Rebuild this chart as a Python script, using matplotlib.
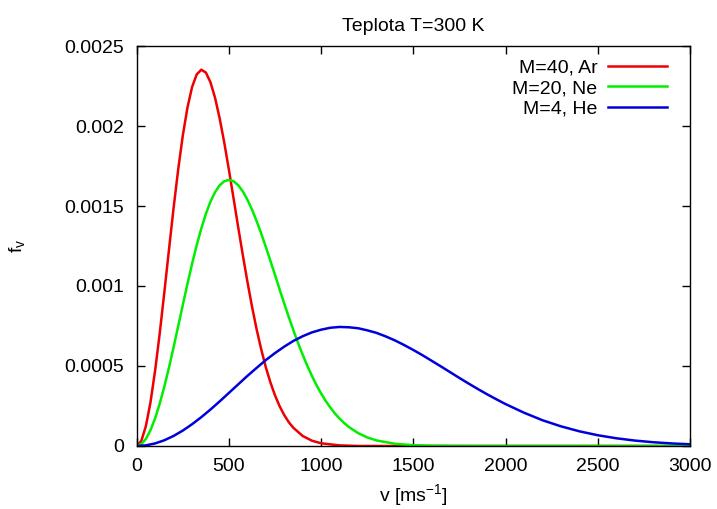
import matplotlib
matplotlib.use("Agg")
import matplotlib.pyplot as plt

plt.rcParams['font.family'] = ['Liberation Sans', 'DejaVu Sans']

# values (Maxwell distribution at T=300 K)
v_ar = [0, 25, 50, 75, 100, 125, 150, 175, 200, 225, 250, 275, 300, 325,
        350, 375, 400, 425, 450, 475, 500, 525, 550, 575, 600, 625, 650,
        675, 700, 725, 750, 775, 800, 825, 850, 900, 950, 1000, 1100, 1200,
        3000]
f_ar = [0, 0.0000319, 0.000126, 0.000276, 0.000474, 0.000707, 0.000964,
        0.001229, 0.001489, 0.001730, 0.001942, 0.002115, 0.002243,
        0.002322, 0.002352, 0.002334, 0.002273, 0.002175, 0.002046,
        0.001894, 0.001725, 0.001548, 0.001369, 0.001195, 0.001028,
        0.000872, 0.000730, 0.000604, 0.000492, 0.000397, 0.000316,
        0.000248, 0.000193, 0.000148, 0.000113, 0.0000625, 0.000033,
        0.0000168, 0.0000038, 0.0, 0.0]

v_ne = [0, 25, 50, 75, 100, 125, 150, 175, 200, 225, 250, 275, 300, 325,
        350, 375, 400, 425, 450, 475, 500, 525, 550, 575, 600, 625, 650,
        675, 700, 725, 750, 775, 800, 825, 850, 875, 900, 925, 950, 975,
        1000, 1025, 1050, 1075, 1100, 1125, 1150, 1200, 1250, 1300, 1400,
        1500, 1600, 1800, 3000]
f_ne = [0, 0.0000113, 0.0000449, 0.0000998, 0.000174, 0.000266, 0.000373,
        0.000491, 0.000618, 0.000750, 0.000882, 0.001013, 0.001138,
        0.001254, 0.001359, 0.001451, 0.001528, 0.001587, 0.001630,
        0.001655, 0.001663, 0.001655, 0.001630, 0.001592, 0.001540,
        0.001478, 0.001406, 0.001328, 0.001244, 0.001157, 0.001068,
        0.000978, 0.000890, 0.000804, 0.000722, 0.000643, 0.000570,
        0.000501, 0.000438, 0.000380, 0.000328, 0.000281, 0.000240,
        0.000203, 0.000171, 0.000143, 0.000119, 0.0000808, 0.0000536,
        0.0000347, 0.0000137, 0.0000049, 0.0000016, 0.0000001, 0.0]

v_he = [0, 50, 100, 150, 200, 250, 300, 350, 400, 450, 500, 550, 600, 650,
        700, 750, 800, 850, 900, 950, 1000, 1050, 1100, 1150, 1200, 1250,
        1300, 1350, 1400, 1450, 1500, 1550, 1600, 1650, 1700, 1750, 1800,
        1850, 1900, 1950, 2000, 2100, 2200, 2300, 2400, 2500, 2600, 2700,
        2800, 2900, 3000]
f_he = [0, 0.0000040, 0.0000161, 0.0000359, 0.0000629, 0.0000965,
        0.000136, 0.000180, 0.000228, 0.000279, 0.000332, 0.000385,
        0.000438, 0.000488, 0.000537, 0.000581, 0.000621, 0.000657,
        0.000686, 0.000710, 0.000727, 0.000739, 0.000744, 0.000742,
        0.000736, 0.000723, 0.000707, 0.000685, 0.000660, 0.000631,
        0.000600, 0.000567, 0.000532, 0.000497, 0.000461, 0.000425,
        0.000390, 0.000356, 0.000323, 0.000292, 0.000262, 0.000208,
        0.000161, 0.000123, 0.0000918, 0.0000672, 0.0000483, 0.0000340,
        0.0000235, 0.0000160, 0.0000107]

labels = ['M=40, Ar', 'M=20, Ne', 'M=4, He']
xticks = [0, 500, 1000, 1500, 2000, 2500, 3000]
yticks = [0, 0.0005, 0.001, 0.0015, 0.002, 0.0025]
ytick_labels = ['0', '0.0005', '0.001', '0.0015', '0.002', '0.0025']

fig = plt.figure(figsize=(7.17, 5.09), dpi=100)
ax = fig.add_axes([0.1907, 0.1238, 0.7716, 0.7858])

ax.plot(v_ar, f_ar, color='#ee0000', lw=1.8, label=labels[0])
ax.plot(v_ne, f_ne, color='#00ee00', lw=1.8, label=labels[1])
ax.plot(v_he, f_he, color='#0000dd', lw=1.8, label=labels[2])

ax.set_xlim(0, 3000)
ax.set_ylim(0, 0.0025)
ax.set_xticks(xticks)
ax.set_xticklabels([str(t) for t in xticks])
ax.set_yticks(yticks)
ax.set_yticklabels(ytick_labels)
ax.tick_params(direction='in', length=6, width=1, top=True, right=True,
               labelsize=14, pad=9)
for s in ax.spines.values():
    s.set_linewidth(1)

ax.set_xlabel('v [ms$^{\\mathregular{-1}}$]', fontsize=14, labelpad=5)
ax.set_ylabel('f$_{\\mathregular{v}}$', fontsize=14, labelpad=26)
ax.set_title('Teplota T=300 K', fontsize=14, pad=11)

ax.legend(loc='upper right', bbox_to_anchor=(0.958, 0.968), frameon=False,
          markerfirst=False, fontsize=14, handlelength=3.0, labelspacing=0.16,
          borderpad=0, borderaxespad=0, handletextpad=0.57)

fig.savefig('out.png', dpi=100)
